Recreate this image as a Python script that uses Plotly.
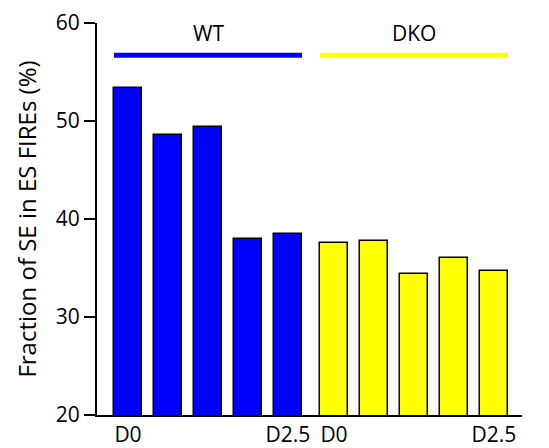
import plotly.graph_objects as go

groups = ["WT", "DKO"]
group_colors = ["#0000ff", "#ffff00"]
wt_values = [53.4, 48.6, 49.4, 38.0, 38.5]
dko_values = [37.6, 37.8, 34.4, 36.0, 34.7]
tick_labels = ["D0", "", "", "", "D2.5"]
y_ticks = [20, 30, 40, 50, 60]

group_gap = 0.15
series = [wt_values, dko_values]
FS = 21

fig = go.Figure()
tickvals, ticktext = [], []
for g, (name, vals, col) in enumerate(zip(groups, series, group_colors)):
    xs = [i + g * (len(vals) + group_gap) for i in range(len(vals))]
    fig.add_trace(go.Bar(
        x=xs, y=vals, base=0, width=0.7, name=name,
        marker=dict(color=col, line=dict(color="black", width=1.5)),
        showlegend=False, hoverinfo="y",
    ))
    tickvals += xs
    ticktext += tick_labels
    fig.add_shape(type="line", x0=xs[0] - 0.35, x1=xs[-1] + 0.35, y0=56.7, y1=56.7,
                  line=dict(color=col, width=5), xref="x", yref="y")
    fig.add_annotation(x=(xs[0] + xs[-1]) / 2, y=59.0, text=name, showarrow=False,
                       xref="x", yref="y", font=dict(size=FS, color="black"))

# page body has an 8px margin; compensate so the plot area lands where the reference has it
fig.update_layout(
    width=541, height=440,
    margin=dict(l=89, r=27, t=15, b=33),
    paper_bgcolor="white", plot_bgcolor="white",
    font=dict(family="Open Sans", size=FS, color="black"),
    bargap=0,
)
fig.update_xaxes(
    range=[-0.775, 9.85], tickvals=tickvals, ticktext=ticktext, automargin=False,
    showline=True, linecolor="black", linewidth=2, ticks="", showgrid=False,
    zeroline=False, tickfont=dict(size=FS),
)
fig.update_yaxes(
    range=[20, 60], tickvals=y_ticks, showline=True, linecolor="black", linewidth=2,
    ticks="outside", ticklen=11, tickwidth=2, tickcolor="black", showgrid=False,
    zeroline=False, automargin=False,
    title=dict(text="Fraction of SE in ES FIREs (%)", font=dict(size=24), standoff=12),
    tickfont=dict(size=FS),
)

fig.write_html("out.html")
